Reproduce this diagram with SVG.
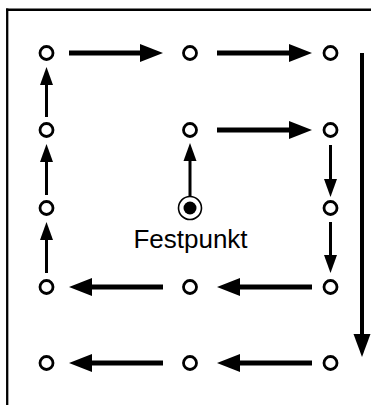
<svg xmlns="http://www.w3.org/2000/svg" width="371" height="405" viewBox="0 0 371 405">
  <style>
    .node { fill: #fff; stroke: #000; stroke-width: 2.8; }
    .thick { stroke: #000; stroke-width: 5; fill: none; }
    .thin { stroke: #000; stroke-width: 3; fill: none; }
    .big { stroke: #000; stroke-width: 4; fill: none; }
    .frame { stroke: #000; fill: none; }
    .label { font-family: "Liberation Sans", Arial, sans-serif; font-size: 26px; fill: #000; }
  </style>
  <defs>
    <marker id="headThick" markerUnits="userSpaceOnUse" markerWidth="23" markerHeight="18" refX="0" refY="9" orient="auto" overflow="visible">
      <path d="M0,0 L23,9 L0,18 z" fill="#000"/>
    </marker>
    <marker id="headThin" markerUnits="userSpaceOnUse" markerWidth="18" markerHeight="13" refX="0" refY="6.5" orient="auto" overflow="visible">
      <path d="M0,0 L18,6.5 L0,13 z" fill="#000"/>
    </marker>
    <marker id="headBig" markerUnits="userSpaceOnUse" markerWidth="23" markerHeight="17" refX="0" refY="8.5" orient="auto" overflow="visible">
      <path d="M0,0 L23,8.5 L0,17 z" fill="#000"/>
    </marker>
  </defs>

  <rect width="371" height="405" fill="#fff"/>

  <g id="frame">
    <line class="frame" x1="6" y1="9.7" x2="371" y2="9.7" stroke-width="2.6"/>
    <line class="frame" x1="7.2" y1="8.5" x2="7.2" y2="405" stroke-width="2.3"/>
  </g>

  <g id="connectors">
    <line class="thick" x1="69" y1="53" x2="140" y2="53" marker-end="url(#headThick)"/>
    <line class="thick" x1="217" y1="53" x2="289" y2="53" marker-end="url(#headThick)"/>
    <line class="thick" x1="217" y1="130" x2="289" y2="130" marker-end="url(#headThick)"/>
    <line class="thick" x1="312" y1="287" x2="240" y2="287" marker-end="url(#headThick)"/>
    <line class="thick" x1="163" y1="287" x2="92" y2="287" marker-end="url(#headThick)"/>
    <line class="thick" x1="312" y1="363" x2="240" y2="363" marker-end="url(#headThick)"/>
    <line class="thick" x1="163" y1="363" x2="92" y2="363" marker-end="url(#headThick)"/>
    <line class="thin" x1="46.5" y1="117" x2="46.5" y2="85" marker-end="url(#headThin)"/>
    <line class="thin" x1="46.5" y1="195" x2="46.5" y2="162" marker-end="url(#headThin)"/>
    <line class="thin" x1="46.5" y1="273" x2="46.5" y2="240" marker-end="url(#headThin)"/>
    <line class="thin" x1="190" y1="196.5" x2="190" y2="161" marker-end="url(#headThin)"/>
    <line class="thin" x1="330.5" y1="145" x2="330.5" y2="179" marker-end="url(#headThin)"/>
    <line class="thin" x1="330.5" y1="222" x2="330.5" y2="255" marker-end="url(#headThin)"/>
    <line class="big" x1="362" y1="53" x2="362" y2="334" marker-end="url(#headBig)"/>
  </g>

  <g id="n-1-1"><circle class="node" cx="46.5" cy="53" r="6.5"/></g>
  <g id="n-1-2"><circle class="node" cx="190" cy="53" r="6.5"/></g>
  <g id="n-1-3"><circle class="node" cx="330.5" cy="53" r="6.5"/></g>
  <g id="n-2-1"><circle class="node" cx="46.5" cy="130" r="6.5"/></g>
  <g id="n-2-2"><circle class="node" cx="190" cy="130" r="6.5"/></g>
  <g id="n-2-3"><circle class="node" cx="330.5" cy="130" r="6.5"/></g>
  <g id="n-3-1"><circle class="node" cx="46.5" cy="208" r="6.5"/></g>
  <g id="festpunkt">
    <circle cx="190" cy="208" r="11.5" fill="#fff" stroke="#000" stroke-width="1.6"/>
    <circle cx="190" cy="208" r="6.5" fill="#000"/>
    <text class="label" x="190.5" y="248" text-anchor="middle">Festpunkt</text>
  </g>
  <g id="n-3-3"><circle class="node" cx="330.5" cy="208" r="6.5"/></g>
  <g id="n-4-1"><circle class="node" cx="46.5" cy="287" r="6.5"/></g>
  <g id="n-4-2"><circle class="node" cx="190" cy="287" r="6.5"/></g>
  <g id="n-4-3"><circle class="node" cx="330.5" cy="287" r="6.5"/></g>
  <g id="n-5-1"><circle class="node" cx="46.5" cy="363" r="6.5"/></g>
  <g id="n-5-2"><circle class="node" cx="190" cy="363" r="6.5"/></g>
  <g id="n-5-3"><circle class="node" cx="330.5" cy="363" r="6.5"/></g>
</svg>
